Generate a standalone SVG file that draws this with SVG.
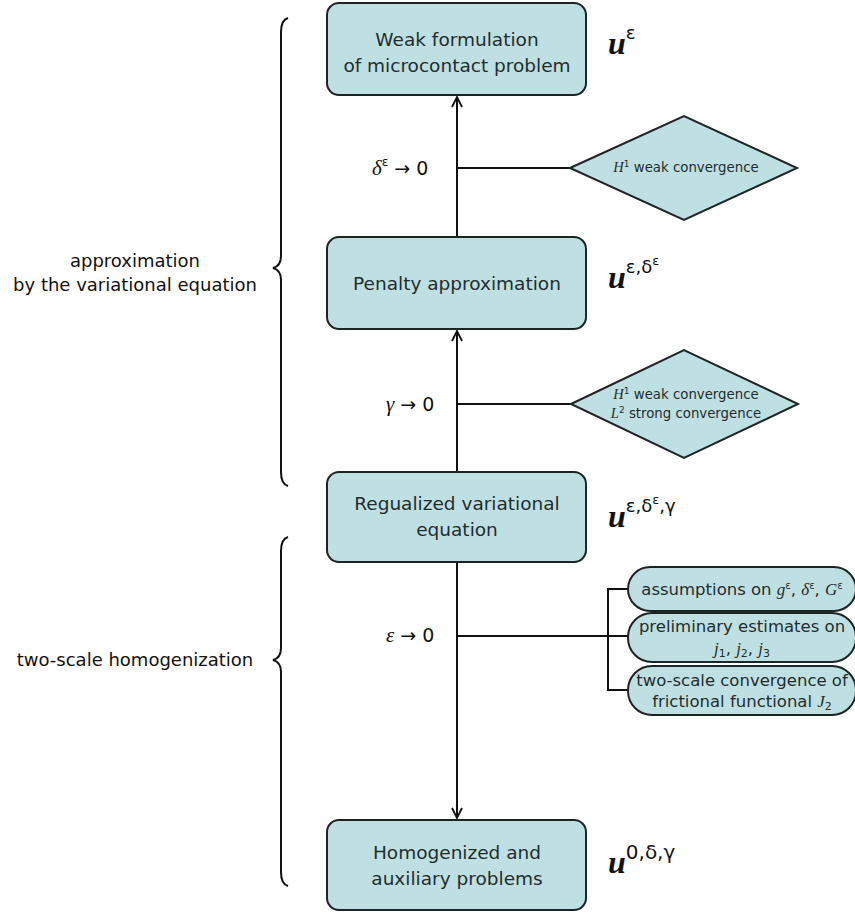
<svg xmlns="http://www.w3.org/2000/svg" width="855" height="913" viewBox="0 0 855 913">
<style>
.box{fill:#bfe0e3;stroke:#1e2424;stroke-width:2}
.t{font-family:"DejaVu Sans",sans-serif;fill:#1f2d2d;text-anchor:middle}
.big{font-size:18.5px}
.sm{font-size:13.3px}
.md{font-size:16.5px}
.lab{font-family:"DejaVu Sans",sans-serif;font-size:18px;fill:#111;text-anchor:middle}
.m{font-family:"Liberation Serif",serif;font-style:italic}
.u{font-family:"Liberation Serif",serif;font-style:italic;font-weight:bold;font-size:32px;fill:#111}
.sup{font-family:"DejaVu Sans",sans-serif;fill:#111}
.ln{fill:none;stroke:#111;stroke-width:2}
.lbl{font-family:"DejaVu Sans",sans-serif;font-size:19px;fill:#111}
</style>
<defs>
<marker id="ah" viewBox="0 0 12 12" refX="11" refY="6" markerWidth="12" markerHeight="12" markerUnits="userSpaceOnUse" orient="auto">
<path d="M1,1 L11,6 L1,11" fill="none" stroke="#111" stroke-width="1.8"/>
</marker>
</defs>

<g id="connectors">
<line class="ln" x1="457" y1="237" x2="457" y2="97" marker-end="url(#ah)"/>
<line class="ln" x1="457" y1="472" x2="457" y2="331" marker-end="url(#ah)"/>
<line class="ln" x1="457" y1="562" x2="457" y2="818" marker-end="url(#ah)"/>
<line class="ln" x1="457" y1="168" x2="570" y2="168"/>
<line class="ln" x1="457" y1="404" x2="571" y2="404"/>
<line class="ln" x1="457" y1="636" x2="629" y2="636"/>
<path class="ln" d="M629,589 H608 V690 H629"/>
</g>

<g id="braces">
<path class="ln" stroke-width="2.5" d="M288,18 Q281,20 281,32 L281,256 Q281,266 273,268 Q281,270 281,280 L281,472 Q281,484 288,486"/>
<path class="ln" stroke-width="2.5" d="M288,537 Q281,539 281,551 L281,648 Q281,658 273,660 Q281,662 281,672 L281,872 Q281,884 288,886"/>
<text class="lab" x="135" y="267">approximation</text>
<text class="lab" x="135" y="291">by the variational equation</text>
<text class="lab" x="135" y="666">two-scale homogenization</text>
</g>

<g id="n1">
<rect class="box" x="327" y="3" width="259" height="92" rx="12"/>
<text class="t big" x="457" y="46">Weak formulation</text>
<text class="t big" x="457" y="72">of microcontact problem</text>
</g>
<g id="n1label">
<text x="608" y="54"><tspan class="u">u</tspan><tspan class="sup" font-size="18" dy="-15">ε</tspan></text>
</g>

<g id="n2">
<rect class="box" x="327" y="237" width="259" height="92" rx="12"/>
<text class="t big" x="457" y="290">Penalty approximation</text>
</g>
<g id="n2label">
<text x="608" y="288"><tspan class="u">u</tspan><tspan class="sup" font-size="18" dy="-15">ε,δ</tspan><tspan class="sup" font-size="13" dy="-8">ε</tspan></text>
</g>

<g id="n3">
<rect class="box" x="327" y="472" width="259" height="90" rx="12"/>
<text class="t big" x="457" y="510">Regualized variational</text>
<text class="t big" x="457" y="536">equation</text>
</g>
<g id="n3label">
<text x="608" y="527"><tspan class="u">u</tspan><tspan class="sup" font-size="18" dy="-15">ε,δ</tspan><tspan class="sup" font-size="13" dy="-8">ε</tspan><tspan class="sup" font-size="18" dy="8">,γ</tspan></text>
</g>

<g id="n4">
<rect class="box" x="327" y="820" width="259" height="90" rx="12"/>
<text class="t big" x="457" y="859">Homogenized and</text>
<text class="t big" x="457" y="885">auxiliary problems</text>
</g>
<g id="n4label">
<text x="608" y="873"><tspan class="u">u</tspan><tspan class="sup" font-size="20" dy="-14">0,δ,γ</tspan></text>
</g>

<g id="d1">
<polygon class="box" points="570,168 684,116 797,168 684,220"/>
<text class="t sm" x="686" y="172"><tspan class="m" font-size="14.5">H</tspan><tspan font-size="9" dy="-5">1</tspan><tspan dy="5"> weak convergence</tspan></text>
</g>
<g id="l1">
<text class="lbl" x="372" y="175"><tspan class="m" font-size="21">δ</tspan><tspan font-size="12" dy="-9">ε</tspan><tspan dy="9"> → 0</tspan></text>
</g>

<g id="d2">
<polygon class="box" points="571,404 684,350 798,404 684,458"/>
<text class="t sm" x="686" y="399"><tspan class="m" font-size="14.5">H</tspan><tspan font-size="9" dy="-5">1</tspan><tspan dy="5"> weak convergence</tspan></text>
<text class="t sm" x="686" y="418"><tspan class="m" font-size="14.5">L</tspan><tspan font-size="9" dy="-5">2</tspan><tspan dy="5"> strong convergence</tspan></text>
</g>
<g id="l2">
<text class="lbl" x="386" y="411"><tspan class="m" font-size="21">γ</tspan><tspan> → 0</tspan></text>
</g>

<g id="l3">
<text class="lbl" x="386" y="642"><tspan class="m" font-size="21">ε</tspan><tspan> → 0</tspan></text>
</g>

<g id="s1">
<rect class="box" x="628" y="567" width="228" height="44" rx="22"/>
<text class="t md" x="742" y="595">assumptions on <tspan class="m" font-size="17">g</tspan><tspan font-size="10" dy="-6">ε</tspan><tspan dy="6">, </tspan><tspan class="m" font-size="17">δ</tspan><tspan font-size="10" dy="-6">ε</tspan><tspan dy="6">, </tspan><tspan class="m" font-size="17">G</tspan><tspan font-size="10" dy="-6">ε</tspan></text>
</g>
<g id="s2">
<rect class="box" x="628" y="613" width="228" height="49" rx="24"/>
<text class="t md" x="742" y="632">preliminary estimates on</text>
<text class="t md" x="742" y="654"><tspan class="m" font-size="17">j</tspan><tspan font-size="11" dy="3">1</tspan><tspan dy="-3">, </tspan><tspan class="m" font-size="17">j</tspan><tspan font-size="11" dy="3">2</tspan><tspan dy="-3">, </tspan><tspan class="m" font-size="17">j</tspan><tspan font-size="11" dy="3">3</tspan></text>
</g>
<g id="s3">
<rect class="box" x="628" y="666" width="228" height="49" rx="24"/>
<text class="t md" x="742" y="686">two-scale convergence of</text>
<text class="t md" x="742" y="707">frictional functional <tspan class="m" font-size="17">J</tspan><tspan font-size="11" dy="3">2</tspan></text>
</g>
</svg>
